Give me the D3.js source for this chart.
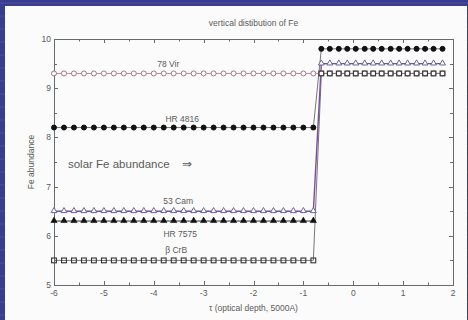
<!DOCTYPE html>
<html>
<head>
<meta charset="utf-8">
<script src="https://cdn.jsdelivr.net/npm/d3@7"></script>
<style>
  html, body { margin: 0; padding: 0; background: #363a8c; }
  #chart { width: 468px; height: 320px; }
  text { font-family: "Liberation Sans", Arial, sans-serif; }
</style>
</head>
<body>
<div id="chart"></div>
<script>
// optical depth grid (log tau) of the inner and outer layers
const tauInner = [-6, -5.8, -5.6, -5.4, -5.2, -5, -4.8, -4.6, -4.4, -4.2, -4, -3.8, -3.6, -3.4,
                  -3.2, -3, -2.8, -2.6, -2.4, -2.2, -2, -1.8, -1.6, -1.4, -1.2, -1, -0.8];
const tauOuter = [-0.64, -0.47, -0.29, -0.12, 0.05, 0.23, 0.40, 0.57, 0.75, 0.92, 1.09, 1.27, 1.44, 1.61, 1.79];

const stars   = ["78 Vir", "HR 4816", "53 Cam", "HR 7575", "\u03B2 CrB"];
const feInner = [9.3, 8.2, 6.5, 6.3, 5.5];
const feOuter = [9.3, 9.8, 9.5, null, 9.3];

const xTicks = [-6, -5, -4, -3, -2, -1, 0, 1, 2];
const yTicks = [5, 6, 7, 8, 9, 10];

// label anchors in data units
const labelPos = [[-3.71, 9.43], [-3.43, 8.31], [-3.51, 6.65], [-3.47, 5.98], [-3.55, 5.65]];

const W = 468, H = 320;
const margin = {top: 39, right: 15, bottom: 35, left: 54};

const svg = d3.select("#chart").append("svg")
  .attr("width", W).attr("height", H);

// slide background stripes
const bg = svg.append("g");
bg.append("rect").attr("width", W).attr("height", H).attr("fill", "#383d8e");
for (let yy = 3; yy < H; yy += 13) {
  bg.append("line").attr("x1", 0).attr("x2", W).attr("y1", yy).attr("y2", yy)
    .attr("stroke", "#4a4f9e").attr("stroke-width", 1);
}
bg.append("rect").attr("x", 5).attr("y", 6).attr("width", 462).attr("height", H - 6)
  .attr("fill", "#fbfbfb");

const x = d3.scaleLinear().domain([-6, 2]).range([margin.left, W - margin.right]);
const y = d3.scaleLinear().domain([5, 10]).range([H - margin.bottom, margin.top]);

const axisColor = "#6a6a6a";
const textColor = "#5a5a5a";

// ticks (inward, all four sides)
const xMinor = d3.range(-5.5, 2, 1);
const yMinor = d3.range(5.5, 10, 1);
const g = svg.append("g").attr("stroke", axisColor).attr("stroke-width", 1);

function ticksX(vals, len) {
  vals.forEach(v => {
    const px = Math.round(x(v)) + 0.5;
    g.append("line").attr("x1", px).attr("x2", px).attr("y1", y(5)).attr("y2", y(5) - len);
    g.append("line").attr("x1", px).attr("x2", px).attr("y1", y(10)).attr("y2", y(10) + len);
  });
}
function ticksY(vals, len) {
  vals.forEach(v => {
    const py = Math.round(y(v)) + 0.5;
    g.append("line").attr("y1", py).attr("y2", py).attr("x1", x(-6)).attr("x2", x(-6) + len);
    g.append("line").attr("y1", py).attr("y2", py).attr("x1", x(2)).attr("x2", x(2) - len);
  });
}
ticksX(xTicks, 4); ticksX(xMinor, 2.5);
ticksY(yTicks, 4); ticksY(yMinor, 3);

svg.append("rect")
  .attr("x", Math.round(x(-6)) + 0.5).attr("y", Math.round(y(10)) + 0.5)
  .attr("width", Math.round(x(2)) - Math.round(x(-6)))
  .attr("height", Math.round(y(5)) - Math.round(y(10)))
  .attr("fill", "none").attr("stroke", axisColor);

// tick labels
svg.append("g").selectAll("text").data(xTicks).enter().append("text")
  .attr("x", d => x(d)).attr("y", y(5) + 11)
  .attr("text-anchor", "middle").attr("font-size", 8.5).attr("fill", textColor)
  .text(d => d < 0 ? "-" + Math.abs(d) : d);

svg.append("g").selectAll("text").data(yTicks).enter().append("text")
  .attr("x", x(-6) - 3).attr("y", d => y(d) + 3)
  .attr("text-anchor", "end").attr("font-size", 8.5).attr("fill", textColor)
  .text(d => d);

// titles
svg.append("text").attr("x", (x(-6) + x(2)) / 2).attr("y", 26)
  .attr("text-anchor", "middle").attr("font-size", 8.5).attr("fill", textColor)
  .text("vertical distibution of Fe");

svg.append("text").attr("x", (x(-6) + x(2)) / 2).attr("y", 311)
  .attr("text-anchor", "middle").attr("font-size", 8.5).attr("fill", textColor)
  .text("\u03C4 (optical depth, 5000A)");

svg.append("text")
  .attr("transform", "translate(" + 34 + "," + ((y(5) + y(10)) / 2) + ") rotate(-90)")
  .attr("text-anchor", "middle").attr("font-size", 8.5).attr("fill", textColor)
  .text("Fe abundance");

// series
const styles = [
  {line: "#b88a9c", marker: "circle",   fill: "#fff", stroke: "#a07585", r: 2.5, sw: 1},
  {line: "#777",    marker: "circle",   fill: "#111", stroke: "#111",    r: 2.5, sw: 1},
  {line: "#7a4f9c", marker: "triangle", fill: "#fff", stroke: "#65659a", r: 15,  sw: 1},
  {line: "#333",    marker: "triangle", fill: "#111", stroke: "#111",    r: 17,  sw: 0.6},
  {line: "#777",    marker: "square",   fill: "none", stroke: "#333",    r: 2.4, sw: 1.1}
];

const series = stars.map((name, i) => {
  const pts = tauInner.map(t => ({tau: t, fe: feInner[i]}));
  if (feOuter[i] !== null) tauOuter.forEach(t => pts.push({tau: t, fe: feOuter[i]}));
  return {name: name, pts: pts, style: styles[i]};
});

const line = d3.line().x(d => x(d.tau)).y(d => y(d.fe));

const drawOrder = [0, 1, 3, 4, 2];
drawOrder.forEach(i => {
  const s = series[i];
  svg.append("path").datum(s.pts)
    .attr("d", line).attr("fill", "none")
    .attr("stroke", s.style.line).attr("stroke-width", i === 2 ? 1.4 : 1);
});

const triangle = d3.symbol().type(d3.symbolTriangle);
drawOrder.forEach(i => {
  const s = series[i], st = s.style;
  const mg = svg.append("g");
  s.pts.forEach(p => {
    const cx = x(p.tau), cy = y(p.fe);
    if (st.marker === "circle") {
      mg.append("circle").attr("cx", cx).attr("cy", cy).attr("r", st.r)
        .attr("fill", st.fill).attr("stroke", st.stroke).attr("stroke-width", st.sw);
    } else if (st.marker === "square") {
      mg.append("rect").attr("x", cx - st.r).attr("y", cy - st.r)
        .attr("width", st.r * 2).attr("height", st.r * 2)
        .attr("fill", st.fill).attr("stroke", st.stroke).attr("stroke-width", st.sw);
    } else {
      mg.append("path").attr("d", triangle.size(st.r)())
        .attr("transform", "translate(" + cx + "," + (cy - 0.3) + ")")
        .attr("fill", st.fill).attr("stroke", st.stroke).attr("stroke-width", st.sw);
    }
  });
});

// star labels
svg.append("g").selectAll("text").data(stars).enter().append("text")
  .attr("x", (d, i) => x(labelPos[i][0])).attr("y", (d, i) => y(labelPos[i][1]))
  .attr("text-anchor", "middle").attr("font-size", 8.5).attr("fill", textColor)
  .text(d => d);

svg.append("text").attr("x", x(-5.72)).attr("y", y(7.38))
  .attr("font-size", 11.5).attr("fill", textColor)
  .text("solar Fe abundance \u00A0\u00A0\u00A0\u21D2");
</script>
</body>
</html>
